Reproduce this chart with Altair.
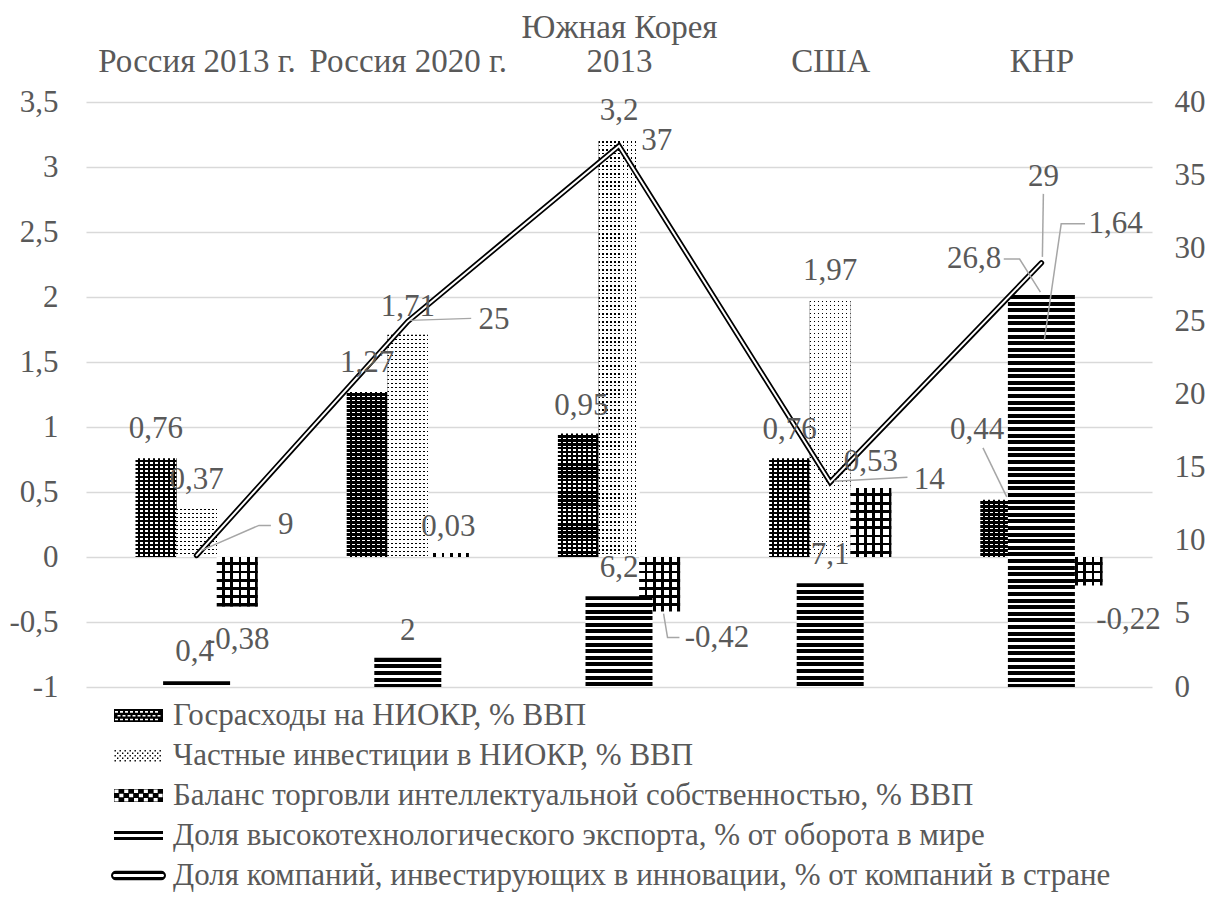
import json
import math
import altair as alt
import pandas as pd

# ---------------- data ----------------
categories = ["Россия 2013 г.", "Россия 2020 г.", "Южная Корея 2013", "США", "КНР"]
category_lines = [["", "Россия 2013 г."], ["", "Россия 2020 г."], ["Южная Корея", "2013"], ["", "США"], ["", "КНР"]]
series = [
    "Госрасходы на НИОКР, % ВВП",
    "Частные инвестиции в НИОКР, % ВВП",
    "Баланс торговли интеллектуальной собственностью, % ВВП",
    "Доля высокотехнологического экспорта, % от оборота в мире",
    "Доля компаний, инвестирующих в инновации, % от компаний в стране",
]
gov_rd = [0.76, 1.27, 0.95, 0.76, 0.44]
private_rd = [0.37, 1.71, 3.2, 1.97, 1.64]
ip_balance = [-0.38, 0.03, -0.42, 0.53, -0.22]
hitech_export = [0.4, 2, 6.2, 7.1, 26.8]
innov_companies = [9, 25, 37, 14, 29]
left_ticks = [-1, -0.5, 0, 0.5, 1, 1.5, 2, 2.5, 3, 3.5]
right_ticks = [0, 5, 10, 15, 20, 25, 30, 35, 40]

values = [gov_rd, private_rd, ip_balance, hitech_export, innov_companies]
on_right = [False, False, False, True, True]

# ---------------- style / layout ----------------
FONT = "Liberation Serif"
TXT = "#595959"
FS = 31
FS_TOP = 33
W, H = 1066, 585
LMIN, LMAX = left_ticks[0], left_ticks[-1]
RMIN, RMAX = right_ticks[0], right_ticks[-1]
PX_CAT = W / len(categories)
PX_L = H / (LMAX - LMIN)
PX_R = H / (RMAX - RMIN)
BAR_W = 41
HT_W = 67
shift = [-41, 0, 41, 0, 0]

# label offsets (px) from bar end / line point
lab_off = [
    [(0, -29), (0, -29), (3, -28), (0, -28), (-24, -70)],
    [(0, -29), (0, -28), (0, -30), (0, -30), (75, -120)],
    [(0, 34), (0, -26), (58, 26), (0, -26), (47, 34)],
    [(-2, -29), (0, -27), (0, -28), (0, -28), (-68, -36)],
    [(90, -30), (87, -1), (38, -5), (100, -2), (2, -86)],
]
leaders = [
    (0, 4, [(-18, -52), (6, -3)]),
    (1, 4, [(3, -4), (20, -120), (44, -120)]),
    (2, 2, [(4, 2), (8, 26), (20, 26)]),
    (3, 4, [(-38, -36), (-22, -36), (-1, -3)]),
    (4, 0, [(5, -5), (63, -30), (75, -30)]),
    (4, 1, [(2, -1), (64, -3)]),
    (4, 3, [(4, -1), (78, -5)]),
    (4, 4, [(1, -6), (2, -69)]),
]


def to_left(v, s):
    if on_right[s]:
        return LMIN + (v - RMIN) * (LMAX - LMIN) / (RMAX - RMIN)
    return v


def fmt(v):
    return f"{v:g}".replace(".", ",")


# ---------------- scales / axes ----------------
X_SCALE = alt.Scale(domain=[0, len(categories)], nice=False, zero=False)
L_SCALE = alt.Scale(domain=[LMIN, LMAX], nice=False, zero=True)
R_SCALE = alt.Scale(domain=[RMIN, RMAX], nice=False, zero=True)

expr = json.dumps(category_lines[-1], ensure_ascii=False)
for i in range(len(categories) - 2, -1, -1):
    lit = json.dumps(category_lines[i], ensure_ascii=False)
    expr = f"datum.value < {i + 1} ? {lit} : ({expr})"

X_AXIS = alt.Axis(orient="top", values=[i + 0.5 for i in range(len(categories))], labelExpr=expr,
                  ticks=False, domain=False, grid=False, title=None, labelAngle=0,
                  labelFont=FONT, labelFontSize=FS_TOP, labelColor=TXT, labelPadding=58,
                  labelLineHeight=34, labelBaseline="bottom", labelLimit=0)
L_AXIS = alt.Axis(orient="left", values=left_ticks, ticks=False, domain=False, grid=True,
                  gridColor="#d9d9d9", gridWidth=1.5, title=None,
                  labelExpr="(datum.value < 0 ? '-' : '') + replace(format(abs(datum.value), '~g'), '.', ',')",
                  labelFont=FONT, labelFontSize=FS, labelColor=TXT, labelPadding=28)
R_AXIS = alt.Axis(orient="right", values=right_ticks, ticks=False, domain=False, grid=False, title=None,
                  format="d", labelFont=FONT, labelFontSize=FS, labelColor=TXT, labelPadding=22)


def ex():
    return alt.X("x:Q", scale=X_SCALE, axis=X_AXIS)


def ey_left():
    return alt.Y("y:Q", scale=L_SCALE, axis=L_AXIS)


def ey_right():
    return alt.Y("y:Q", scale=R_SCALE, axis=R_AXIS)


def ey_lab():
    return alt.Y("y:Q", scale=L_SCALE, axis=None)


# ---------------- stripe gradients ----------------
def stripe_grad(length, pitch, on, c_on, c_off, along_y):
    stops = []
    pos = 0.0
    while pos < length - 1e-9:
        a = pos / length
        b = min(pos + on, length) / length
        e = min(pos + pitch, length) / length
        stops += [(a, c_on), (b, c_on), (b, c_off), (e, c_off)]
        pos += pitch
    gs = [alt.GradientStop(offset=round(o, 5), color=c) for o, c in stops]
    if along_y:
        return alt.LinearGradient(gradient="linear", stops=gs, x1=0, x2=0, y1=0, y2=1)
    return alt.LinearGradient(gradient="linear", stops=gs, x1=0, x2=1, y1=0, y2=0)


CLEAR = "rgba(255,255,255,0)"

# ---------------- data frames ----------------
rows = []
for s in range(4):
    for i, v in enumerate(values[s]):
        rows.append({"s": s, "c": i, "x": i + 0.5 + shift[s] / PX_CAT, "y": v})
bars = pd.DataFrame(rows)

line_df = pd.DataFrame({"x": [i + 0.5 for i in range(len(categories))], "y": innov_companies})

lab_rows = []
for s in range(5):
    for i, v in enumerate(values[s]):
        dx, dy = lab_off[s][i]
        lab_rows.append({
            "x": i + 0.5 + (shift[s] + dx) / PX_CAT,
            "y": to_left(v, s) - dy / PX_L,
            "t": fmt(v),
        })
labels = pd.DataFrame(lab_rows)

ld_rows = []
for n, (s, i, pts) in enumerate(leaders):
    v = to_left(values[s][i], s)
    for k, (dx, dy) in enumerate(pts):
        ld_rows.append({"id": n, "k": k, "x": i + 0.5 + (shift[s] + dx) / PX_CAT, "y": v - dy / PX_L})
leader_df = pd.DataFrame(ld_rows)

# ---------------- left group: primary bars ----------------
left_layers = []
base_specs = {
    0: (5.0, 3.0, "white", "black"),
    1: (4.0, 1.5, "black", "white"),
    2: (8.2, 5.4, "white", "black"),
}
over_specs = {
    0: (4.0, 1.4, CLEAR, "black"),
    1: (4.0, 1.5, CLEAR, "white"),
    2: (8.2, 5.4, CLEAR, "black"),
}
for s in range(3):
    p, on, c_on, c_off = base_specs[s]
    left_layers.append(
        alt.Chart(bars[bars.s == s]).mark_bar(
            width=BAR_W, orient="vertical", fill=stripe_grad(BAR_W, p, on, c_on, c_off, False)
        ).encode(x=ex(), y=ey_left())
    )
    for i, v in enumerate(values[s]):
        h = abs(v) * PX_L
        p, on, c_on, c_off = over_specs[s]
        left_layers.append(
            alt.Chart(bars[(bars.s == s) & (bars.c == i)]).mark_bar(
                width=BAR_W, orient="vertical", fill=stripe_grad(h, p, on, c_on, c_off, True)
            ).encode(x=ex(), y=ey_left())
        )

# legend via shape symbols (custom paths)
R = 13.0


def P(x, y):
    return f"{x / R:.3f},{y / R:.3f}"


def rect_path(x0, y0, x1, y1, ccw=False):
    pts = [(x0, y0), (x1, y0), (x1, y1), (x0, y1)]
    if ccw:
        pts = [(x0, y0), (x0, y1), (x1, y1), (x1, y0)]
    return "M" + "L".join(P(*q) for q in pts) + "Z"


def capsule(xl, xr, h, ccw=False):
    r = h / 2
    pts = []
    for k in range(9):
        t = -math.pi / 2 + math.pi * k / 8
        pts.append((xr - r + r * math.cos(t), r * math.sin(t)))
    for k in range(9):
        t = math.pi / 2 + math.pi * k / 8
        pts.append((xl + r + r * math.cos(t), r * math.sin(t)))
    if ccw:
        pts = pts[::-1]
    return "M" + "L".join(P(*q) for q in pts) + "Z"


sym_gos = rect_path(-24.5, -6.5, 24.5, 6.5)
for rr, yc in enumerate([-3.6, 0.2, 4.0]):
    x = -23.5 + (rr % 2) * 2.5
    while x + 3 <= 23.6:
        sym_gos += rect_path(x, yc - 0.8, x + 3, yc + 0.8, ccw=True)
        x += 5
sym_priv = ""
for rr, yc in enumerate([-5.5, -3.0, -0.5, 2.0, 4.5]):
    x = -24.0 + (rr % 2) * 2.5
    while x + 1.4 <= 24.5:
        sym_priv += rect_path(x, yc, x + 1.4, yc + 1.4)
        x += 5
sym_bal = rect_path(-24.5, -6.5, 24.5, 6.5)
cw_, ch_ = 4.9, 13 / 3
for rr in range(3):
    for cc in range(10):
        if (rr + cc) % 2 == 0:
            x0 = -24.5 + cc * cw_ + 0.4
            y0 = -6.5 + rr * ch_ + 0.4
            sym_bal += rect_path(x0, y0, x0 + cw_ - 0.8, y0 + ch_ - 0.8, ccw=True)
sym_ht = rect_path(-24.5, -4.6, 24.5, -1.4) + rect_path(-24.5, 1.4, 24.5, 4.6)
sym_line = capsule(-27.5, 27.5, 9.5) + capsule(-25.5, 25.5, 3.0, ccw=True)
symbol_paths = [sym_gos, sym_priv, sym_bal, sym_ht, sym_line]

legend_layer = alt.Chart(pd.DataFrame({"s": series})).transform_filter("false").mark_point(
    filled=True, color="black", opacity=1
).encode(
    shape=alt.Shape("s:N", scale=alt.Scale(domain=series, range=symbol_paths),
                    legend=alt.Legend(orient="none", legendX=37, legendY=598, direction="vertical",
                                      title=None, labelFont=FONT, labelFontSize=FS, labelColor=TXT,
                                      symbolSize=(2 * R) ** 2, symbolFillColor="black",
                                      symbolStrokeWidth=0, symbolOpacity=1, rowPadding=8,
                                      labelOffset=19, labelLimit=2000, padding=0))
)
left_layers.append(legend_layer)
left_group = alt.layer(*left_layers)

# ---------------- right group: hi-tech bars + line ----------------
right_layers = []
for i, v in enumerate(hitech_export):
    h = v * PX_R
    right_layers.append(
        alt.Chart(bars[(bars.s == 3) & (bars.c == i)]).mark_bar(
            width=HT_W, orient="vertical", fill=stripe_grad(h, 6.6, 4.0, "black", "white", True)
        ).encode(x=ex(), y=ey_right())
    )
right_layers.append(
    alt.Chart(line_df).mark_line(color="black", strokeWidth=5.5, strokeJoin="miter", strokeCap="round")
    .encode(x=ex(), y=ey_right())
)
right_layers.append(
    alt.Chart(line_df).mark_line(color="white", strokeWidth=2, strokeJoin="miter", strokeCap="round")
    .encode(x=ex(), y=ey_right())
)
right_group = alt.layer(*right_layers)

# ---------------- labels group ----------------
leader_layer = alt.Chart(leader_df).mark_line(color="#a6a6a6", strokeWidth=1.5).encode(
    x=ex(), y=ey_lab(), detail="id:N", order="k:Q"
)
text_layer = alt.Chart(labels).mark_text(
    font=FONT, fontSize=FS, color=TXT, align="center", baseline="middle"
).encode(x=ex(), y=ey_lab(), text="t:N")
label_group = alt.layer(leader_layer, text_layer)

chart = alt.layer(left_group, right_group, label_group).resolve_scale(y="independent").properties(
    width=W, height=H,
    autosize=alt.AutoSizeParams(type="none"),
    padding={"left": 78, "top": 94, "right": 53, "bottom": 207},
).configure_view(stroke=None)

chart.save("out.html", embed_options={"renderer": "svg", "actions": False})
